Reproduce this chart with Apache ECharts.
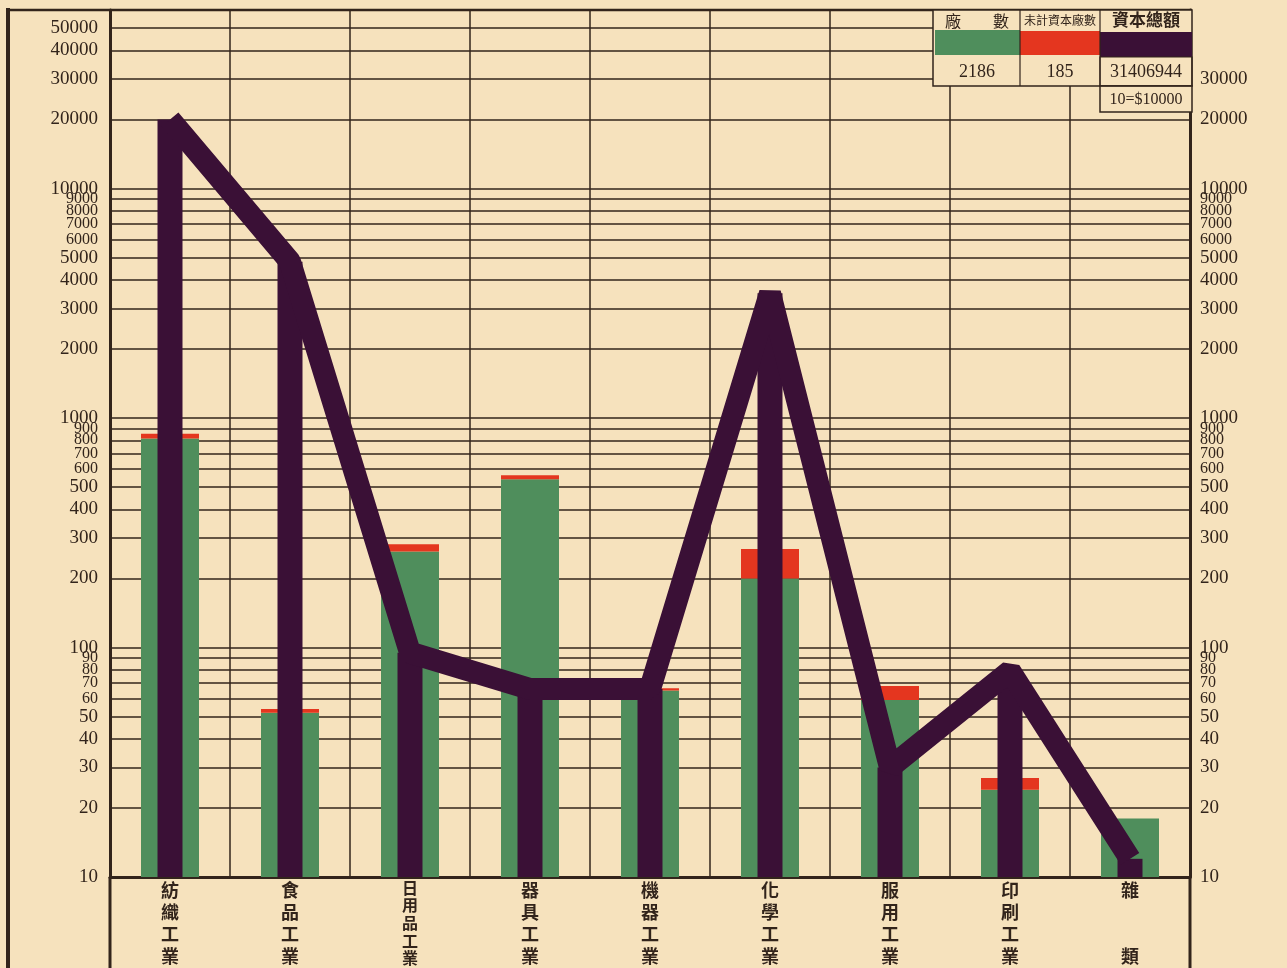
<!DOCTYPE html>
<html>
<head>
<meta charset="utf-8">
<script src="https://cdn.jsdelivr.net/npm/echarts@6/dist/echarts.min.js"></script>
<style>
  html, body { margin: 0; padding: 0; background: #f6e2bd; }
  #chart { width: 1287px; height: 968px; }
</style>
</head>
<body>
<div id="chart"></div>
<script>
// categories (industries)
const categories = ['紡織工業', '食品工業', '日用品工業', '器具工業', '機器工業', '化學工業', '服用工業', '印刷工業', '雜類'];
// 廠數 - green bars
const factoryCounts = [815, 52, 262, 541, 65, 200, 59, 24, 18];
// 未計資本廠數 - red caps stacked on top
const uncountedFactories = [40, 2, 20, 22, 1.5, 69, 9, 3, '-'];
// 資本總額 - purple line, 10 = $10000
const capitalTotal = [20000, 4800, 95, 66, 66, 3500, 30, 79, 12];
// tick labels
const leftTicks = [10, 20, 30, 40, 50, 60, 70, 80, 90, 100, 200, 300, 400, 500, 600, 700, 800, 900,
  1000, 2000, 3000, 4000, 5000, 6000, 7000, 8000, 9000, 10000, 20000, 30000, 40000, 50000];
const rightTicks = leftTicks.filter(v => v <= 30000);
// legend table
const legendNames = ['廠　　數', '未計資本廠數', '資本總額'];
const legendTotals = ['2186', '185', '31406944'];
const unitNote = '10=$10000';

const ink = '#32241b';
const paper = '#f6e2bd';
const green = '#4f8e5c';
const red = '#e4361f';
const purple = '#3a1036';

const chart = echarts.init(document.getElementById('chart'));

const tickLabel = (v) => {
  const lead = String(v)[0];
  return ['6', '7', '8', '9'].includes(lead) ? '{s|' + v + '}' : '{b|' + v + '}';
};
const labelRich = {
  b: { fontSize: 19, fontFamily: 'Liberation Serif', color: ink },
  s: { fontSize: 16, fontFamily: 'Liberation Serif', color: ink },
};

const xLabel = (v) => {
  if (v === '雜類') return '雜\n\n\n類';
  if (v === '日用品工業') return v.split('').map(c => '{s|' + c + '}').join('\n');
  return v.split('').join('\n');
};

const option = {
  backgroundColor: paper,
  animation: false,
  grid: { left: 110, right: 97, top: 10, bottom: 91, containLabel: false, outerBoundsMode: 'none' },
  xAxis: [
    {
      type: 'category',
      data: categories,
      axisLine: { lineStyle: { color: ink, width: 3 } },
      axisTick: { show: false },
      splitLine: { show: true, lineStyle: { color: ink, width: 1.5 } },
      axisLabel: {
        formatter: xLabel,
        interval: 0,
        margin: 2,
        fontFamily: 'Noto Sans CJK TC',
        fontWeight: 'bold',
        fontSize: 18,
        lineHeight: 22,
        color: ink,
        rich: { s: { fontSize: 16, lineHeight: 17.6, fontFamily: 'Noto Sans CJK TC', fontWeight: 'bold', color: ink } },
      },
    },
    { type: 'category', data: categories, show: false },
  ],
  yAxis: [
    {
      type: 'log',
      min: 10,
      max: 60000,
      startValue: 10,
      axisLine: { show: true, lineStyle: { color: ink, width: 3 } },
      axisTick: { show: false, customValues: leftTicks },
      splitLine: { show: true, lineStyle: { color: ink, width: 1.6 } },
      axisLabel: { customValues: leftTicks, formatter: tickLabel, rich: labelRich, margin: 12 },
    },
    {
      type: 'log',
      position: 'right',
      min: 10,
      max: 60000,
      startValue: 10,
      axisLine: { show: true, lineStyle: { color: ink, width: 3 } },
      axisTick: { show: false, customValues: rightTicks },
      splitLine: { show: false },
      axisLabel: { customValues: rightTicks, formatter: tickLabel, rich: labelRich, margin: 10 },
    },
  ],
  series: [
    {
      name: '廠數',
      type: 'bar',
      stack: 'factories',
      barWidth: 58,
      data: factoryCounts,
      itemStyle: { color: green },
      z: 2,
    },
    {
      name: '未計資本廠數',
      type: 'bar',
      stack: 'factories',
      barWidth: 58,
      data: uncountedFactories,
      itemStyle: { color: red },
      z: 2,
    },
    {
      name: '資本總額',
      type: 'bar',
      xAxisIndex: 1,
      barWidth: 25,
      data: capitalTotal,
      itemStyle: { color: purple },
      z: 3,
    },
    {
      name: '資本總額線',
      type: 'line',
      data: capitalTotal,
      symbol: 'none',
      lineStyle: { color: purple, width: 22, join: 'bevel', cap: 'butt' },
      z: 4,
    },
  ],
  graphic: [
    // outer frame
    { type: 'line', z: 50, shape: { x1: 8, y1: 8, x2: 8, y2: 968 }, style: { stroke: ink, lineWidth: 4 } },
    { type: 'line', z: 50, shape: { x1: 8, y1: 10, x2: 1192, y2: 10 }, style: { stroke: ink, lineWidth: 2.5 } },
    { type: 'line', z: 50, shape: { x1: 110, y1: 877, x2: 110, y2: 968 }, style: { stroke: ink, lineWidth: 3 } },
    { type: 'line', z: 50, shape: { x1: 1190, y1: 877, x2: 1190, y2: 968 }, style: { stroke: ink, lineWidth: 3 } },
    // legend table
    { type: 'rect', z: 100, shape: { x: 933, y: 10, width: 259, height: 76 }, style: { fill: paper, stroke: ink, lineWidth: 1.5 } },
    { type: 'rect', z: 101, shape: { x: 935, y: 30, width: 85, height: 25 }, style: { fill: green } },
    { type: 'rect', z: 101, shape: { x: 1020, y: 31, width: 80, height: 24 }, style: { fill: red } },
    { type: 'rect', z: 101, shape: { x: 1100, y: 32, width: 92, height: 25 }, style: { fill: purple } },
    { type: 'line', z: 102, shape: { x1: 1020, y1: 10, x2: 1020, y2: 86 }, style: { stroke: ink, lineWidth: 1.2 } },
    { type: 'line', z: 102, shape: { x1: 1100, y1: 10, x2: 1100, y2: 86 }, style: { stroke: ink, lineWidth: 1.2 } },
    { type: 'rect', z: 102, shape: { x: 1100, y: 57, width: 92, height: 29 }, style: { fill: 'none', stroke: ink, lineWidth: 1.2 } },
    { type: 'rect', z: 100, shape: { x: 1100, y: 86, width: 92, height: 26 }, style: { fill: paper, stroke: ink, lineWidth: 1.5 } },
    { type: 'text', z: 103, x: 977, y: 21, style: { text: legendNames[0], fill: ink, font: '16px "Noto Sans CJK TC"', align: 'center', verticalAlign: 'middle' } },
    { type: 'text', z: 103, x: 1060, y: 20, style: { text: legendNames[1], fill: ink, font: '12px "Noto Sans CJK TC"', align: 'center', verticalAlign: 'middle' } },
    { type: 'text', z: 103, x: 1146, y: 20, style: { text: legendNames[2], fill: ink, font: 'bold 17px "Noto Sans CJK TC"', align: 'center', verticalAlign: 'middle' } },
    { type: 'text', z: 103, x: 977, y: 72, style: { text: legendTotals[0], fill: ink, font: '18px "Liberation Serif"', align: 'center', verticalAlign: 'middle' } },
    { type: 'text', z: 103, x: 1060, y: 72, style: { text: legendTotals[1], fill: ink, font: '18px "Liberation Serif"', align: 'center', verticalAlign: 'middle' } },
    { type: 'text', z: 103, x: 1146, y: 72, style: { text: legendTotals[2], fill: ink, font: '18px "Liberation Serif"', align: 'center', verticalAlign: 'middle' } },
    { type: 'text', z: 103, x: 1146, y: 100, style: { text: unitNote, fill: ink, font: '16px "Liberation Serif"', align: 'center', verticalAlign: 'middle' } },
  ],
};

chart.setOption(option);
window.addEventListener('resize', chart.resize);
</script>
</body>
</html>
